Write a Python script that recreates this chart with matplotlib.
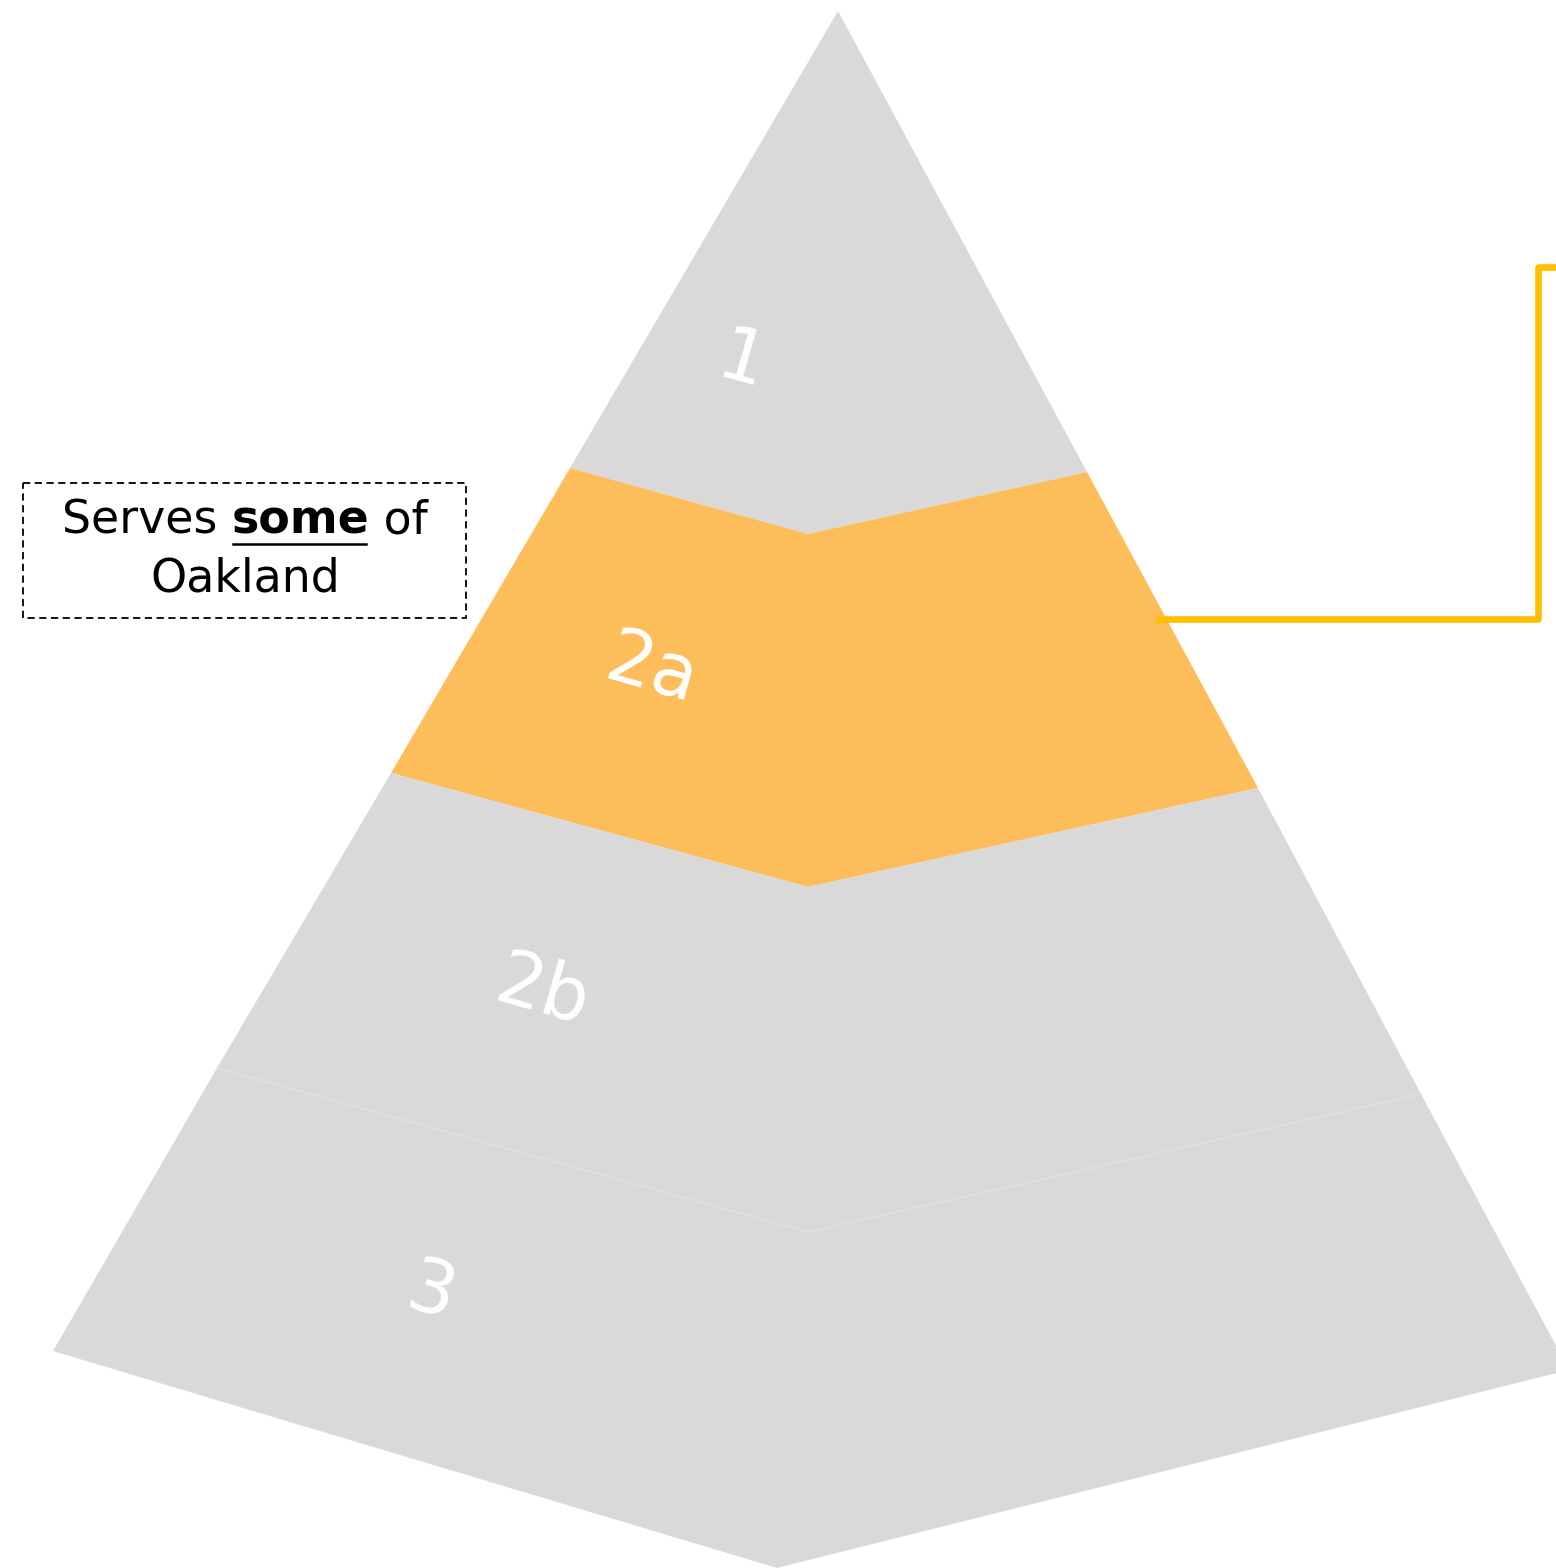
import matplotlib
matplotlib.use("Agg")
import matplotlib.pyplot as plt
from matplotlib.patches import Polygon, Rectangle

# ---- data ----
layers = ["1", "2a", "2b", "3"]
layer_colors = ["#D9D9D9", "#FDBD5A", "#D9D9D9", "#D9D9D9"]
apex = (838, 11)
# chevron boundaries below each layer (left corner, middle notch, right corner)
left_x = [570, 391, 217, 53]
left_y = [468, 773, 1068, 1351]
mid_x = [808, 808, 808, 777]
mid_y = [534, 887, 1232, 1568]
right_x = [1087, 1258, 1421, 1569]
right_y = [472, 788, 1094, 1370]
label_x = [742, 652, 542, 431]
label_y = [363, 671, 993, 1294]

callout_words = ["Serves ", "some", " of"]
callout_line2 = "Oakland"
connector_x = [1155, 1538, 1538, 1560]
connector_y = [619, 619, 267, 267]

W, H = 1556, 1568
fig = plt.figure(figsize=(W / 100, H / 100), dpi=100)
ax = fig.add_axes([0, 0, 1, 1])
ax.set_xlim(0, W)
ax.set_ylim(H, 0)
ax.axis("off")

for i, name in enumerate(layers):
    if i == 0:
        pts = [apex, (left_x[0], left_y[0]), (mid_x[0], mid_y[0]), (right_x[0], right_y[0])]
    else:
        pts = [(left_x[i - 1], left_y[i - 1]), (left_x[i], left_y[i]), (mid_x[i], mid_y[i]),
               (right_x[i], right_y[i]), (right_x[i - 1], right_y[i - 1]), (mid_x[i - 1], mid_y[i - 1])]
    ax.add_patch(Polygon(pts, closed=True, facecolor=layer_colors[i], edgecolor="none", zorder=1))
    ax.text(label_x[i], label_y[i], name, color="white", fontsize=53,
            family="DejaVu Sans", rotation=-16, ha="center", va="center", zorder=3)

# faint seam between 2b and 3
ax.plot([left_x[2], mid_x[2], right_x[2]], [left_y[2], mid_y[2], right_y[2]],
        color="#E4E4E4", lw=0.8, zorder=2)

# connector line
ax.plot(connector_x, connector_y, color="#FFC000", lw=4.8, solid_joinstyle="round",
        solid_capstyle="butt", zorder=4)

# dashed callout box
ax.add_patch(Rectangle((23, 483), 443, 135, fill=False, edgecolor="black", lw=1.3,
                       linestyle=(0, (4, 2.5)), zorder=5))

fs = 33
fam = "DejaVu Sans"
fig.canvas.draw()
r = fig.canvas.get_renderer()
weights = ["normal", "bold", "normal"]
texts = []
widths = []
for w, wt in zip(callout_words, weights):
    t = ax.text(0, 521, w, fontsize=fs, fontweight=wt, family=fam,
                ha="left", va="center", zorder=6)
    bb = t.get_window_extent(renderer=r)
    texts.append(t)
    widths.append(bb.width)
total = sum(widths)
xc = 245
x0 = xc - total / 2
for t, w in zip(texts, widths):
    t.set_x(x0)
    x0 += w
# underline the bold word
ux0 = texts[1].get_position()[0]
ax.plot([ux0 + 1, ux0 + widths[1] - 3], [543.5, 543.5], color="black", lw=1.8, zorder=6)
ax.text(xc, 579, callout_line2, fontsize=fs, family=fam, ha="center", va="center", zorder=6)

fig.savefig("out.png", dpi=100, facecolor="white")
